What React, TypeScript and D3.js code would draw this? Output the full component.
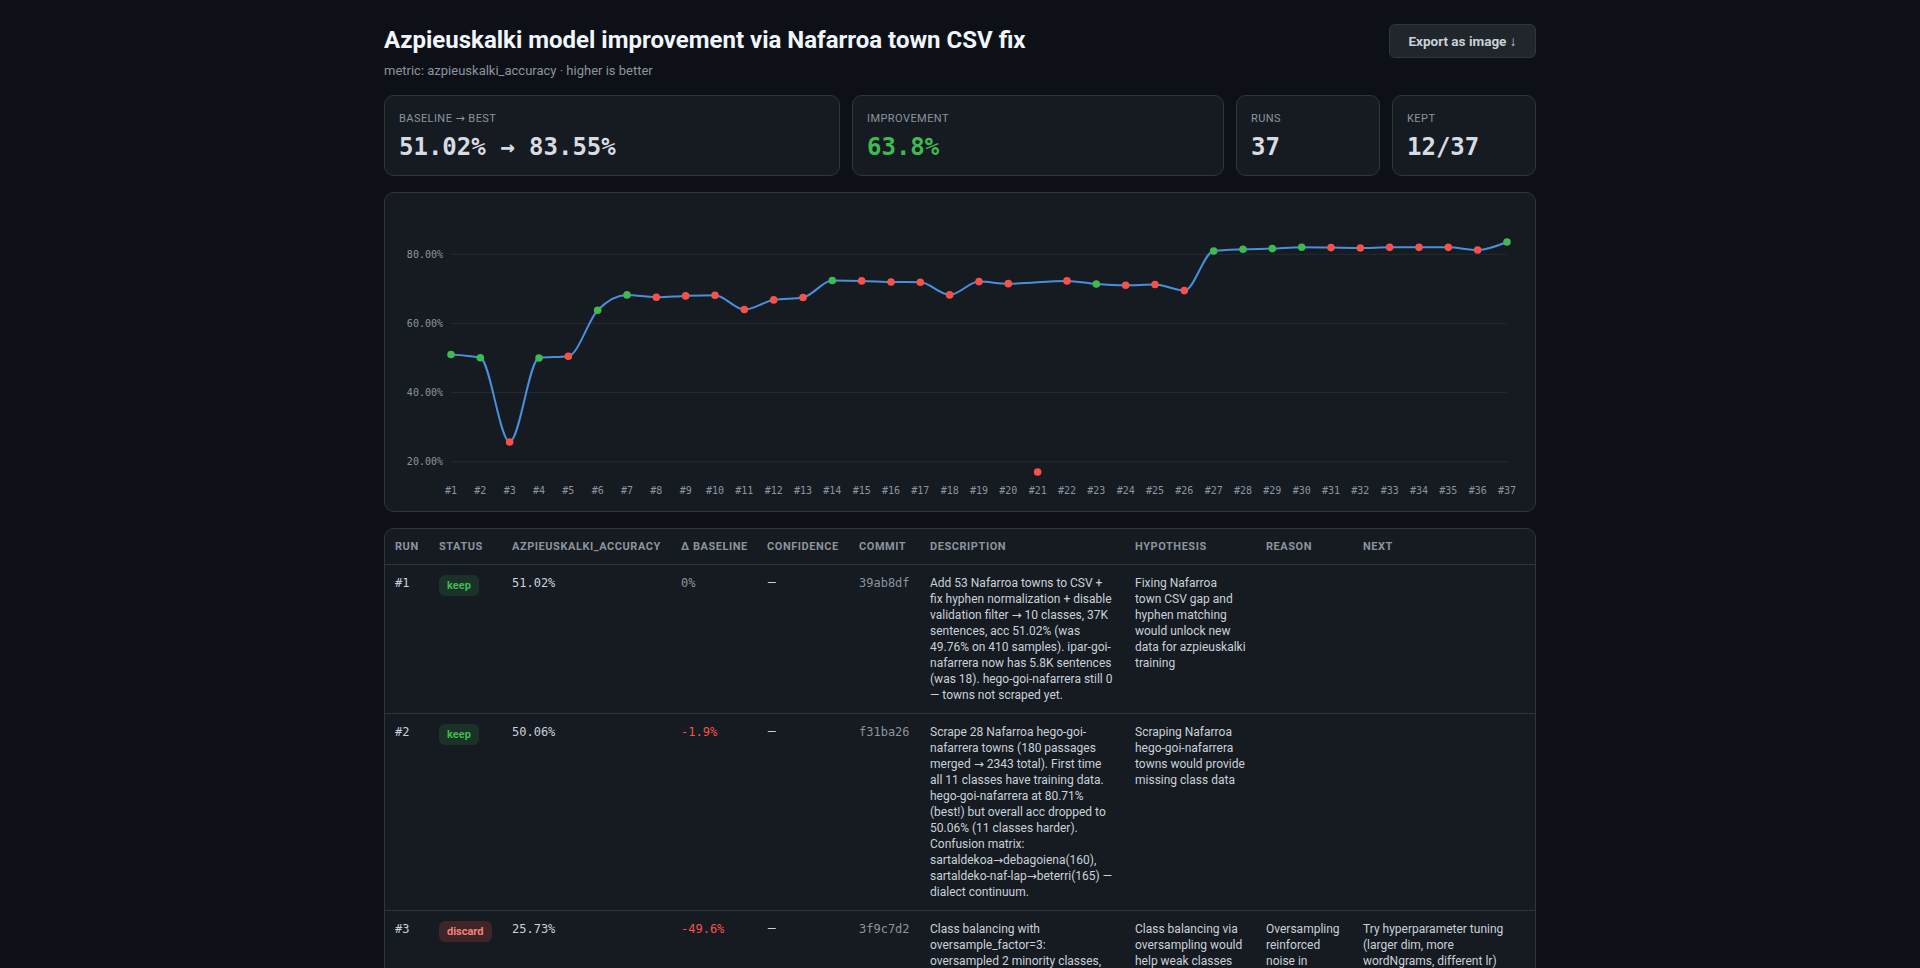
import * as React from "react";
import * as d3 from "d3";

const RUN_LABELS = Array.from({ length: 37 }, (_, i) => `#${i + 1}`);

const ACCURACY = [
  51.02, 50.06, 25.73, 50.02, 50.5, 63.8, 68.25, 67.58, 67.96, 68.16, 64.02, 66.8, 67.49,
  72.4, 72.3, 72.0, 71.9, 68.25, 72.1, 71.5, 17.04, 72.3, 71.4, 71.05, 71.24, 69.5, 80.96,
  81.44, 81.64, 82.02, 81.93, 81.83, 82.0, 82.0, 82.0, 81.25, 83.55,
];

const K = "keep";
const D = "discard";
const C = "crash";
const STATUS = [
  K, K, D, K, D, K, K, D, D, D, D, D, D, K, D, D, D, D, D, D, C, D, K, D, D, D, K, K, K, K,
  D, D, D, D, D, D, K,
];

const Y_TICKS = [20, 40, 60, 80];

const STATS = [
  { label: "Baseline → Best", value: "51.02% → 83.55%", accent: false },
  { label: "Improvement", value: "63.8%", accent: true },
  { label: "Runs", value: "37", accent: false },
  { label: "Kept", value: "12/37", accent: false },
];

const COLUMNS = [
  "Run", "Status", "azpieuskalki_accuracy", "Δ Baseline", "Confidence", "Commit",
  "Description", "Hypothesis", "Reason", "Next",
];

const TABLE_ROWS = [
  {
    run: "#1", status: K, acc: "51.02%", delta: "0%", conf: "—", commit: "39ab8df",
    desc: "Add 53 Nafarroa towns to CSV + fix hyphen normalization + disable validation filter → 10 classes, 37K sentences, acc 51.02% (was 49.76% on 410 samples). ipar-goi-nafarrera now has 5.8K sentences (was 18). hego-goi-nafarrera still 0 — towns not scraped yet.",
    hyp: "Fixing Nafarroa town CSV gap and hyphen matching would unlock new data for azpieuskalki training",
    reason: "", next: "",
  },
  {
    run: "#2", status: K, acc: "50.06%", delta: "-1.9%", conf: "—", commit: "f31ba26",
    desc: "Scrape 28 Nafarroa hego-goi-nafarrera towns (180 passages merged → 2343 total). First time all 11 classes have training data. hego-goi-nafarrera at 80.71% (best!) but overall acc dropped to 50.06% (11 classes harder). Confusion matrix: sartaldekoa→debagoiena(160), sartaldeko-naf-lap→beterri(165) — dialect continuum.",
    hyp: "Scraping Nafarroa hego-goi-nafarrera towns would provide missing class data",
    reason: "", next: "",
  },
  {
    run: "#3", status: D, acc: "25.73%", delta: "-49.6%", conf: "—", commit: "3f9c7d2",
    desc: "Class balancing with oversample_factor=3: oversampled 2 minority classes, accuracy collapsed to 25.73% as the model overfit duplicated sentences.",
    hyp: "Class balancing via oversampling would help weak classes",
    reason: "Oversampling reinforced noise in minority classes",
    next: "Try hyperparameter tuning (larger dim, more wordNgrams, different lr)",
  },
];

const COL_WIDTHS = [44, 73, 169, 86, 92, 71, 205, 131, 97, 182];

const SANS = "Roboto, 'Noto Sans', sans-serif";
const MONO = "'DejaVu Sans Mono', monospace";
// arrows fall back badly in Roboto, so give them a real glyph
const TEXT_FONT = "Roboto, 'DejaVu Sans', sans-serif";

const C_BG = "#0d1117";
const C_CARD = "#161b22";
const C_BORDER = "#30363d";
const C_MUTED = "#8b949e";
const C_TEXT = "#c9d1d9";
const C_VALUE = "#d6dce3";
const C_GREEN = "#3fb950";
const C_RED = "#f85149";

const CHART_W = 1150;
const CHART_H = 318;

function AccuracyChart() {
  const data = ACCURACY.map((v, i) => ({ label: RUN_LABELS[i], value: v, status: STATUS[i] }));
  const x = d3.scalePoint<string>().domain(RUN_LABELS).range([66, 1122]);
  const [lo, hi] = d3.extent(ACCURACY) as [number, number];
  const y = d3.scaleLinear().domain([lo, hi]).range([279, 49]);
  const line = d3
    .line<(typeof data)[number]>()
    .x((d) => x(d.label)!)
    .y((d) => y(d.value))
    .curve(d3.curveMonotoneX);
  // crashed runs get a dot but are left out of the line
  const path = line(data.filter((d) => d.status !== C)) ?? "";

  return (
    <svg width={CHART_W} height={CHART_H} style={{ display: "block" }}>
      {Y_TICKS.map((t) => (
        <g key={t}>
          <line x1={66} x2={1122} y1={y(t)} y2={y(t)} stroke="#262c35" strokeWidth={1} />
          <text
            x={58}
            y={y(t)}
            dy="0.35em"
            textAnchor="end"
            fill={C_MUTED}
            style={{ fontFamily: MONO, fontSize: 10 }}
          >
            {t.toFixed(2)}%
          </text>
        </g>
      ))}
      <path d={path} fill="none" stroke="#4a8fdb" strokeWidth={2} />
      {data.map((d) => (
        <circle
          key={d.label}
          cx={x(d.label)}
          cy={y(d.value)}
          r={3.8}
          fill={d.status === K ? C_GREEN : C_RED}
        />
      ))}
      {RUN_LABELS.map((l) => (
        <text
          key={l}
          x={x(l)}
          y={297}
          dy="0.35em"
          textAnchor="middle"
          fill={C_MUTED}
          style={{ fontFamily: MONO, fontSize: 10 }}
        >
          {l}
        </text>
      ))}
    </svg>
  );
}

function Badge({ status }: { status: string }) {
  const keep = status === K;
  return (
    <span
      style={{
        display: "inline-block",
        height: 21,
        lineHeight: "21px",
        padding: "0 8px",
        borderRadius: 6,
        fontSize: 11,
        fontWeight: 700,
        color: keep ? C_GREEN : "#f0837b",
        background: keep ? "rgba(63,185,80,0.15)" : "rgba(248,81,73,0.18)",
      }}
    >
      {status}
    </span>
  );
}

export default function App() {
  React.useLayoutEffect(() => {
    document.body.style.margin = "0";
    document.body.style.background = C_BG;
  }, []);

  const cell: React.CSSProperties = {
    padding: "10px 10px",
    verticalAlign: "top",
    borderTop: `1px solid ${C_BORDER}`,
    fontSize: 12,
    lineHeight: "16px",
    color: C_TEXT,
    fontFamily: TEXT_FONT,
    overflowWrap: "break-word",
  };
  const mono: React.CSSProperties = { ...cell, fontFamily: MONO };

  return (
    <div style={{ background: C_BG, minHeight: "100vh", fontFamily: SANS }}>
      <div style={{ width: 1152, margin: "0 auto", paddingTop: 26, position: "relative" }}>
        <h1
          style={{
            margin: 0,
            fontSize: 24,
            lineHeight: "29px",
            fontWeight: 700,
            color: "#f0f6fc",
          }}
        >
          Azpieuskalki model improvement via Nafarroa town CSV fix
        </h1>
        <div style={{ marginTop: 7, fontSize: 13, lineHeight: "18px", color: C_MUTED }}>
          metric: azpieuskalki_accuracy · higher is better
        </div>
        <div
          style={{
            position: "absolute",
            top: 24,
            right: 0,
            width: 147,
            height: 34,
            boxSizing: "border-box",
            border: `1px solid ${C_BORDER}`,
            borderRadius: 6,
            background: "#21262d",
            color: C_TEXT,
            fontSize: 13.5,
            fontWeight: 700,
            lineHeight: "32px",
            textAlign: "center",
          }}
        >
          Export as image ↓
        </div>

        <div style={{ display: "flex", gap: 12, marginTop: 15 }}>
          {STATS.map((s, i) => (
            <div
              key={s.label}
              style={{
                width: [456, 372, 144, 144][i],
                height: 81,
                boxSizing: "border-box",
                padding: "16px 14px 0",
                background: C_CARD,
                border: `1px solid ${C_BORDER}`,
                borderRadius: 10,
              }}
            >
              <div
                style={{
                  fontSize: 11,
                  lineHeight: "14px",
                  letterSpacing: "0.04em",
                  textTransform: "uppercase",
                  color: C_MUTED,
                  fontFamily: TEXT_FONT,
                }}
              >
                {s.label}
              </div>
              <div
                style={{
                  marginTop: 7,
                  fontFamily: MONO,
                  fontWeight: 700,
                  fontSize: 24,
                  lineHeight: "28px",
                  color: s.accent ? C_GREEN : C_VALUE,
                }}
              >
                {s.value}
              </div>
            </div>
          ))}
        </div>

        <div
          style={{
            marginTop: 16,
            background: C_CARD,
            border: `1px solid ${C_BORDER}`,
            borderRadius: 10,
            overflow: "hidden",
          }}
        >
          <AccuracyChart />
        </div>

        <div
          style={{
            marginTop: 16,
            background: C_CARD,
            border: `1px solid ${C_BORDER}`,
            borderRadius: 10,
            overflow: "hidden",
          }}
        >
          <table
            style={{
              width: 1150,
              tableLayout: "fixed",
              borderCollapse: "collapse",
              borderSpacing: 0,
            }}
          >
            <colgroup>
              {COL_WIDTHS.map((w, i) => (
                <col key={i} style={{ width: w }} />
              ))}
            </colgroup>
            <thead>
              <tr>
                {COLUMNS.map((c) => (
                  <th
                    key={c}
                    style={{
                      padding: "10px 10px",
                      textAlign: "left",
                      fontSize: 11,
                      lineHeight: "15px",
                      fontWeight: 700,
                      letterSpacing: "0.05em",
                      textTransform: "uppercase",
                      color: C_MUTED,
                      whiteSpace: "nowrap",
                    }}
                  >
                    {c}
                  </th>
                ))}
              </tr>
            </thead>
            <tbody>
              {TABLE_ROWS.map((r) => (
                <tr key={r.run}>
                  <td style={{ ...mono, color: C_TEXT }}>{r.run}</td>
                  <td style={cell}>
                    <Badge status={r.status} />
                  </td>
                  <td style={{ ...mono, color: C_TEXT }}>{r.acc}</td>
                  <td style={{ ...mono, color: r.delta.startsWith("-") ? C_RED : C_MUTED }}>
                    {r.delta}
                  </td>
                  <td style={cell}>{r.conf}</td>
                  <td style={{ ...mono, color: C_MUTED, whiteSpace: "nowrap" }}>{r.commit}</td>
                  <td style={cell}>{r.desc}</td>
                  <td style={cell}>{r.hyp}</td>
                  <td style={cell}>{r.reason}</td>
                  <td style={cell}>{r.next}</td>
                </tr>
              ))}
            </tbody>
          </table>
        </div>
        <div style={{ height: 40 }} />
      </div>
    </div>
  );
}
